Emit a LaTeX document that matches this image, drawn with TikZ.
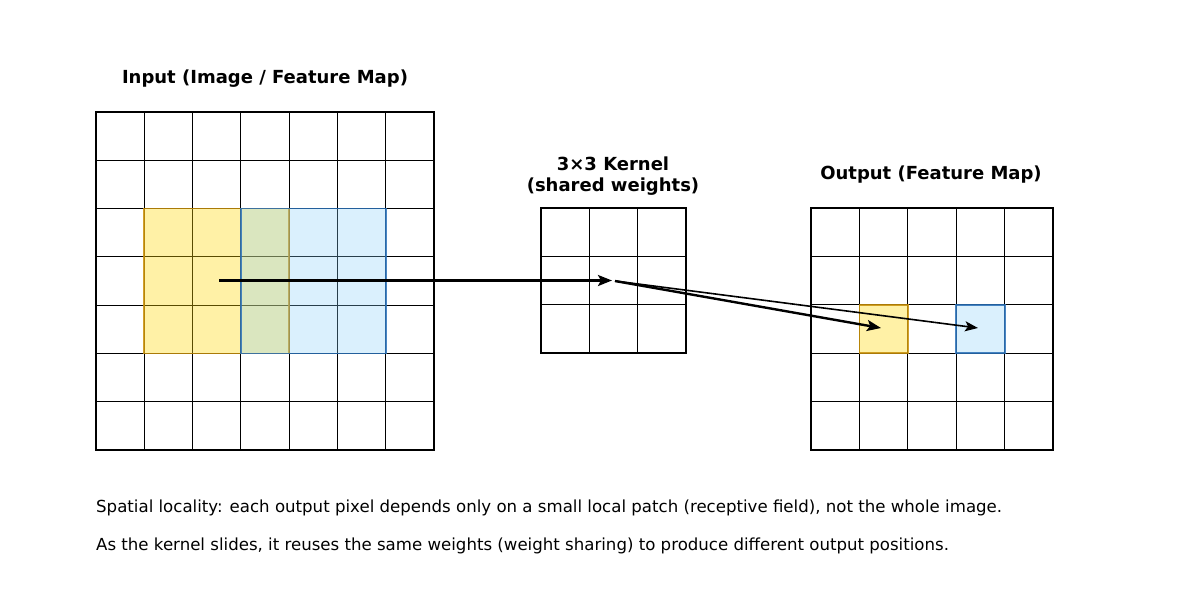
\documentclass[tikz,border=0pt]{standalone}
\usepackage{fontspec}
\setmainfont{DejaVu Sans}
\usetikzlibrary{arrows.meta}
\definecolor{ylfill}{HTML}{FFD700}
\definecolor{yledge}{HTML}{C8900A}
\definecolor{blfill}{HTML}{87CEFA}
\definecolor{bledge}{HTML}{2A70B8}
\tikzset{
  gridline/.style={line width=1.1pt, black},
  gridframe/.style={line width=2.4pt, black},
  ypatch/.style={fill=ylfill, fill opacity=0.35, draw=yledge, draw opacity=0.85, line width=1.8pt},
  bpatch/.style={fill=blfill, fill opacity=0.3, draw=bledge, draw opacity=0.85, line width=1.8pt},
  flowarrow/.style={line width=2.4pt, -{Stealth[length=14pt,width=11pt,inset=3pt]}},
  thinarrow/.style={line width=1.6pt, -{Stealth[length=13pt,width=10pt,inset=3pt]}},
  titletext/.style={font=\bfseries\fontsize{18}{21}\selectfont, align=center},
  bodytext/.style={font=\fontsize{16.6}{19}\selectfont, anchor=west, inner sep=0pt},
}
\begin{document}
\begin{tikzpicture}[x=1pt,y=-1pt]
\useasboundingbox (0,0) rectangle (1200,600);
\fill[white] (0,0) rectangle (1200,600);
% input grid 7x7
\pgfmathsetmacro{\ci}{338/7}
\foreach \i in {1,...,6} {
  \draw[gridline] (96+\i*\ci,112) -- (96+\i*\ci,450);
  \draw[gridline] (96,112+\i*\ci) -- (434,112+\i*\ci);
}
% patches
\path[ypatch] (96+\ci,112+2*\ci) rectangle (96+4*\ci,112+5*\ci);
\path[bpatch] (96+3*\ci,112+2*\ci) rectangle (96+6*\ci,112+5*\ci);
\draw[gridframe] (96,112) rectangle (434,450);
% kernel grid 3x3
\pgfmathsetmacro{\ck}{145/3}
\foreach \i in {1,2} {
  \draw[gridline] (541+\i*\ck,208) -- (541+\i*\ck,353);
  \draw[gridline] (541,208+\i*\ck) -- (686,208+\i*\ck);
}
\draw[gridframe] (541,208) rectangle (686,353);
% output grid 5x5
\pgfmathsetmacro{\co}{242/5}
\foreach \i in {1,...,4} {
  \draw[gridline] (811+\i*\co,208) -- (811+\i*\co,450);
  \draw[gridline] (811,208+\i*\co) -- (1053,208+\i*\co);
}
\path[ypatch] (811+\co,208+2*\co) rectangle (811+2*\co,208+3*\co);
\path[bpatch] (811+3*\co,208+2*\co) rectangle (811+4*\co,208+3*\co);
\draw[gridframe] (811,208) rectangle (1053,450);
% titles
\node[titletext] (tin) at (265,79) {Input (Image / Feature Map)};
\node[titletext] (tk) at (613,176) {3×3 Kernel\\(shared weights)};
\node[titletext] (tout) at (931,175) {Output (Feature Map)};
% arrow anchors
\coordinate (pin) at (219,280.5);
\coordinate (kin) at (612,280.5);
\coordinate (kout) at (615,281);
\coordinate (oy) at (881,328);
\coordinate (ob) at (978,328);
\draw[flowarrow] (pin) -- (kin);
\draw[flowarrow] (kout) -- (oy);
\draw[thinarrow] (kout) -- (ob);
% captions
\node[bodytext] (c1) at (96,507.5) {Spatial locality: each output pixel depends only on a small local patch (receptive field), not the whole image.};
\node[bodytext] (c2) at (96,545.5) {As the kernel slides, it reuses the same weights (weight sharing) to produce different output positions.};
\end{tikzpicture}
\end{document}
